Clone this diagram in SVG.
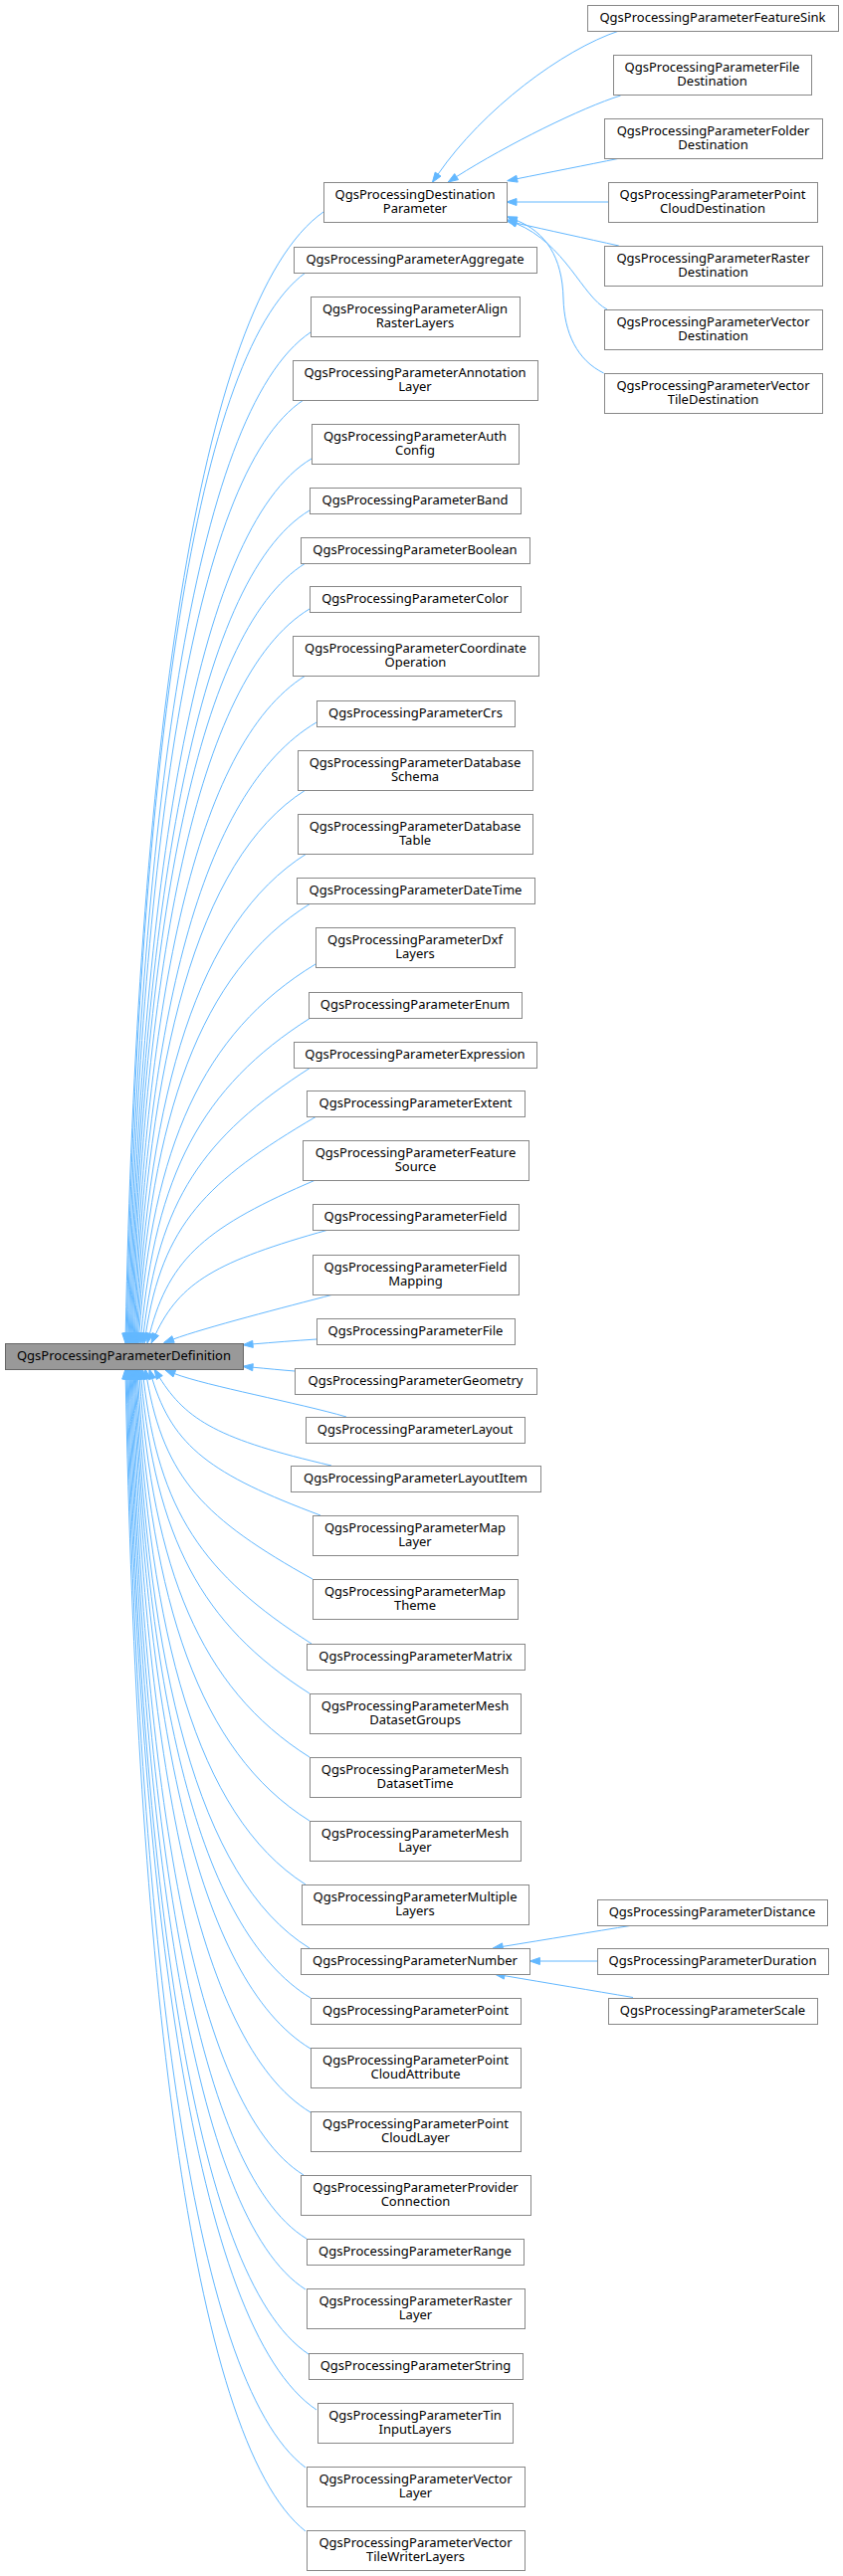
<svg xmlns="http://www.w3.org/2000/svg" width="847" height="2589" viewBox="0 0 847 2589">
<style>
.n rect{fill:#ffffff;stroke:#888888;stroke-width:1;shape-rendering:crispEdges}
.r rect{fill:#999999;stroke:#666666;stroke-width:1;shape-rendering:crispEdges}
text{font-family:"Noto Sans","Liberation Sans",sans-serif;font-size:13px;text-anchor:middle;fill:#000000}
#edges path{fill:none;stroke:#63b8ff;stroke-width:1}
#edges polygon{fill:#63b8ff;stroke:#63b8ff;stroke-width:1}
</style>
<rect x="0" y="0" width="847" height="2589" fill="#ffffff"/>
<g id="edges">
<path d="M325,213 C196.7,303.2 137.5,776.5 126.2,1340"/><polygon points="126,1350 129.7,1340.1 122.7,1339.9"/>
<path d="M307,274 C190.1,359.3 138.6,807 127.2,1340"/><polygon points="127,1350 130.7,1340.1 123.7,1339.9"/>
<path d="M312,334 C192.5,414.5 139.7,837 128.2,1340"/><polygon points="128,1350 131.7,1340.1 124.7,1339.9"/>
<path d="M305,402 C190.8,477 140.9,871 129.3,1340"/><polygon points="129,1350 132.8,1340.1 125.8,1339.9"/>
<path d="M313,461 C194.2,531.3 142,900.5 130.3,1340"/><polygon points="130,1350 133.8,1340.1 126.8,1339.9"/>
<path d="M311,513 C194.2,583 143.1,926.5 131.3,1340"/><polygon points="131,1350 134.8,1340.1 127.8,1339.9"/>
<path d="M307,566 C193.4,636 144.2,953 132.3,1340"/><polygon points="132,1350 135.8,1340.1 128.8,1339.9"/>
<path d="M311,612 C195.5,682 145.4,976 133.3,1340"/><polygon points="133,1350 136.8,1340.1 129.8,1339.9"/>
<path d="M307,679 C194.8,749 146.7,1009.5 134.4,1340"/><polygon points="134,1350 137.9,1340.1 130.9,1339.9"/>
<path d="M318,726 C199.3,796 147.8,1033 135.4,1340"/><polygon points="135,1350 138.9,1340.1 131.9,1339.9"/>
<path d="M307,794 C196.2,864 149.2,1067 136.5,1340"/><polygon points="136,1350 140,1340.2 133,1339.8"/>
<path d="M308,858 C197.2,928 150.6,1099 137.5,1340"/><polygon points="137,1350 141,1340.2 134,1339.8"/>
<path d="M312,908 C199.3,978 152.1,1124 138.6,1340"/><polygon points="138,1350 142.1,1340.2 135.1,1339.8"/>
<path d="M317,969 C201.8,1039 153.8,1154.5 139.8,1340"/><polygon points="139,1350 143.3,1340.3 136.3,1339.7"/>
<path d="M312,1023 C201.4,1093 156.6,1181.5 141.9,1340"/><polygon points="141,1350 145.4,1340.4 138.4,1339.8"/>
<path d="M312,1073 C202.9,1143 159.8,1206.6 144.2,1340.1"/><polygon points="143,1350 147.7,1340.5 140.7,1339.7"/>
<path d="M318,1122 C206.5,1187.4 163.4,1231 146.5,1340.1"/><polygon points="145,1350 150,1340.6 143,1339.6"/>
<path d="M317,1186 C208.8,1232.3 170.2,1263.3 150.5,1340.3"/><polygon points="148,1350 153.9,1341.2 147.1,1339.4"/>
<path d="M330,1236 C217.1,1267.5 180.7,1289 156.3,1341"/><polygon points="152,1350 159.5,1342.5 153.1,1339.5"/>
<path d="M335,1301 C285,1314 207,1334 174,1346"/><polygon points="164.6,1349.4 172.8,1342.7 175.2,1349.3"/>
<path d="M318,1346 C295,1347.5 275,1349.2 254,1350.9"/><polygon points="244,1351.7 253.7,1347.4 254.3,1354.4"/>
<path d="M296,1378 C283,1377 268,1375.5 254,1374.2"/><polygon points="244,1373.3 254.3,1370.7 253.7,1377.7"/>
<path d="M348,1424 C300,1410 208,1393 175.3,1380.6"/><polygon points="166,1377 176.6,1377.3 174,1383.9"/>
<path d="M333,1473 C220.7,1446.9 187.5,1428 160.3,1384.5"/><polygon points="155,1376 163.3,1382.6 157.3,1386.4"/>
<path d="M322,1523 C212.1,1481.9 173.8,1454.1 152.9,1385.6"/><polygon points="150,1376 156.3,1384.6 149.6,1386.6"/>
<path d="M314,1587 C205.9,1526.7 165.2,1486.4 147.7,1385.9"/><polygon points="146,1376 151.2,1385.3 144.3,1386.5"/>
<path d="M313,1652 C203.3,1582 159.8,1518.9 144.2,1385.9"/><polygon points="143,1376 147.7,1385.5 140.7,1386.3"/>
<path d="M311,1702 C201,1632 156.6,1544 141.9,1386"/><polygon points="141,1376 145.4,1385.7 138.4,1386.3"/>
<path d="M311,1766 C200,1696 154.1,1576 140.2,1386"/><polygon points="139.5,1376 143.7,1385.7 136.7,1386.3"/>
<path d="M311,1830 C199,1760 152,1608 138.6,1386"/><polygon points="138,1376 142.1,1385.8 135.1,1386.2"/>
<path d="M307,1894 C196.8,1824 150.5,1640 137.5,1386"/><polygon points="137,1376 141,1385.8 134,1386.2"/>
<path d="M311,1958 C197.5,1888 149,1672 136.4,1386"/><polygon points="136,1376 139.9,1385.8 132.9,1386.2"/>
<path d="M312,2008 C197.3,1938 147.8,1697 135.4,1386"/><polygon points="135,1376 138.9,1385.9 131.9,1386.1"/>
<path d="M312,2059 C196.5,1989 146.6,1722.5 134.4,1386"/><polygon points="134,1376 137.9,1385.9 130.9,1386.1"/>
<path d="M312,2123 C195.8,2053 145.3,1754.5 133.3,1386"/><polygon points="133,1376 136.8,1385.9 129.8,1386.1"/>
<path d="M305,2186 C192.7,2116 144.2,1786 132.3,1386"/><polygon points="132,1376 135.8,1385.9 128.8,1386.1"/>
<path d="M308,2250 C193.1,2180 143,1818 131.3,1386"/><polygon points="131,1376 134.8,1385.9 127.8,1386.1"/>
<path d="M307,2301 C192.1,2227.8 141.9,1843.5 130.3,1386"/><polygon points="130,1376 133.8,1385.9 126.8,1386.1"/>
<path d="M310,2366 C192.5,2287.6 140.7,1876 129.2,1386"/><polygon points="129,1376 132.7,1385.9 125.7,1386.1"/>
<path d="M318,2422 C194.6,2339.1 139.6,1904 128.2,1386"/><polygon points="128,1376 131.7,1385.9 124.7,1386.1"/>
<path d="M307,2480 C190.1,2392.5 138.6,1933 127.2,1386"/><polygon points="127,1376 130.7,1385.9 123.7,1386.1"/>
<path d="M307,2544 C189.5,2451.4 137.5,1965 126.2,1386"/><polygon points="126,1376 129.7,1385.9 122.7,1386.1"/>
<path d="M622,31 C565,50 485,110 440.1,175.1"/><polygon points="434.4,183.3 443,177.1 437.2,173.1"/>
<path d="M623.6,96 C585,108 510,145 458.6,177.6"/><polygon points="450.2,183 460.5,180.6 456.7,174.6"/>
<path d="M621.8,159.3 C590,165.7 550,173.6 519.5,179.7"/><polygon points="509.7,181.7 520.2,183.1 518.8,176.3"/>
<path d="M611,203 L519,203"/><polygon points="509,203 519,199.5 519,206.5"/>
<path d="M621.8,247 C590,240 550,231.2 518.8,224.2"/><polygon points="509,222 519.6,220.8 518,227.6"/>
<path d="M610,311 C585,298 568,245 518.5,224.6"/><polygon points="509.3,220.8 519.8,221.4 517.2,227.8"/>
<path d="M606.6,375 C580,362 567,335 566,300 C565,258 548,233 518.7,221.4"/><polygon points="509.4,217.7 520,218.1 517.4,224.7"/>
<path d="M636,1935 C595,1941.7 550,1949 505.1,1956.4"/><polygon points="495.2,1958 505.7,1959.9 504.5,1952.9"/>
<path d="M600,1971 L542.4,1971"/><polygon points="532.4,1971 542.4,1967.5 542.4,1974.5"/>
<path d="M636,2007.5 C595,2000.6 550,1993 506.9,1985.7"/><polygon points="497,1984 507.5,1982.2 506.3,1989.1"/>
</g>
<g id="root" class="r"><rect x="5" y="1350" width="239" height="26"/><text x="124.5" y="1367">QgsProcessingParameterDefinition</text></g>
<g id="n_dest" class="n"><rect x="325" y="183" width="184" height="40"/><text x="417" y="200">QgsProcessingDestination</text><text x="417" y="214">Parameter</text></g>
<g id="n_aggregate" class="n"><rect x="295" y="248" width="244" height="26"/><text x="417" y="265">QgsProcessingParameterAggregate</text></g>
<g id="n_align" class="n"><rect x="312" y="298" width="210" height="40"/><text x="417" y="315">QgsProcessingParameterAlign</text><text x="417" y="329">RasterLayers</text></g>
<g id="n_annotation" class="n"><rect x="294" y="362" width="246" height="40"/><text x="417" y="379">QgsProcessingParameterAnnotation</text><text x="417" y="393">Layer</text></g>
<g id="n_auth" class="n"><rect x="313" y="426" width="208" height="40"/><text x="417" y="443">QgsProcessingParameterAuth</text><text x="417" y="457">Config</text></g>
<g id="n_band" class="n"><rect x="311" y="490" width="212" height="26"/><text x="417" y="507">QgsProcessingParameterBand</text></g>
<g id="n_boolean" class="n"><rect x="302" y="540" width="230" height="26"/><text x="417" y="557">QgsProcessingParameterBoolean</text></g>
<g id="n_color" class="n"><rect x="311" y="589" width="212" height="26"/><text x="417" y="606">QgsProcessingParameterColor</text></g>
<g id="n_coord" class="n"><rect x="294" y="639" width="247" height="40"/><text x="417.5" y="656">QgsProcessingParameterCoordinate</text><text x="417.5" y="670">Operation</text></g>
<g id="n_crs" class="n"><rect x="318" y="704" width="199" height="26"/><text x="417.5" y="721">QgsProcessingParameterCrs</text></g>
<g id="n_dbschema" class="n"><rect x="299" y="754" width="236" height="40"/><text x="417" y="771">QgsProcessingParameterDatabase</text><text x="417" y="785">Schema</text></g>
<g id="n_dbtable" class="n"><rect x="299" y="818" width="236" height="40"/><text x="417" y="835">QgsProcessingParameterDatabase</text><text x="417" y="849">Table</text></g>
<g id="n_datetime" class="n"><rect x="298" y="882" width="239" height="26"/><text x="417.5" y="899">QgsProcessingParameterDateTime</text></g>
<g id="n_dxf" class="n"><rect x="317" y="932" width="200" height="40"/><text x="417" y="949">QgsProcessingParameterDxf</text><text x="417" y="963">Layers</text></g>
<g id="n_enum" class="n"><rect x="310" y="997" width="214" height="26"/><text x="417" y="1014">QgsProcessingParameterEnum</text></g>
<g id="n_expression" class="n"><rect x="295" y="1047" width="244" height="26"/><text x="417" y="1064">QgsProcessingParameterExpression</text></g>
<g id="n_extent" class="n"><rect x="308" y="1096" width="219" height="26"/><text x="417.5" y="1113">QgsProcessingParameterExtent</text></g>
<g id="n_fsource" class="n"><rect x="304" y="1146" width="227" height="40"/><text x="417.5" y="1163">QgsProcessingParameterFeature</text><text x="417.5" y="1177">Source</text></g>
<g id="n_field" class="n"><rect x="314" y="1210" width="207" height="26"/><text x="417.5" y="1227">QgsProcessingParameterField</text></g>
<g id="n_fmapping" class="n"><rect x="314" y="1261" width="207" height="40"/><text x="417.5" y="1278">QgsProcessingParameterField</text><text x="417.5" y="1292">Mapping</text></g>
<g id="n_file" class="n"><rect x="318" y="1325" width="199" height="26"/><text x="417.5" y="1342">QgsProcessingParameterFile</text></g>
<g id="n_geometry" class="n"><rect x="296" y="1375" width="243" height="26"/><text x="417.5" y="1392">QgsProcessingParameterGeometry</text></g>
<g id="n_layout" class="n"><rect x="307" y="1424" width="220" height="26"/><text x="417" y="1441">QgsProcessingParameterLayout</text></g>
<g id="n_layoutitem" class="n"><rect x="292" y="1473" width="251" height="26"/><text x="417.5" y="1490">QgsProcessingParameterLayoutItem</text></g>
<g id="n_maplayer" class="n"><rect x="314" y="1523" width="206" height="40"/><text x="417" y="1540">QgsProcessingParameterMap</text><text x="417" y="1554">Layer</text></g>
<g id="n_maptheme" class="n"><rect x="314" y="1587" width="206" height="40"/><text x="417" y="1604">QgsProcessingParameterMap</text><text x="417" y="1618">Theme</text></g>
<g id="n_matrix" class="n"><rect x="308" y="1652" width="219" height="26"/><text x="417.5" y="1669">QgsProcessingParameterMatrix</text></g>
<g id="n_meshgroups" class="n"><rect x="311" y="1702" width="212" height="40"/><text x="417" y="1719">QgsProcessingParameterMesh</text><text x="417" y="1733">DatasetGroups</text></g>
<g id="n_meshtime" class="n"><rect x="311" y="1766" width="212" height="40"/><text x="417" y="1783">QgsProcessingParameterMesh</text><text x="417" y="1797">DatasetTime</text></g>
<g id="n_meshlayer" class="n"><rect x="311" y="1830" width="212" height="40"/><text x="417" y="1847">QgsProcessingParameterMesh</text><text x="417" y="1861">Layer</text></g>
<g id="n_multiple" class="n"><rect x="303" y="1894" width="228" height="40"/><text x="417" y="1911">QgsProcessingParameterMultiple</text><text x="417" y="1925">Layers</text></g>
<g id="n_number" class="n"><rect x="302" y="1958" width="230" height="26"/><text x="417" y="1975">QgsProcessingParameterNumber</text></g>
<g id="n_point" class="n"><rect x="312" y="2008" width="211" height="26"/><text x="417.5" y="2025">QgsProcessingParameterPoint</text></g>
<g id="n_pcattribute" class="n"><rect x="312" y="2058" width="211" height="40"/><text x="417.5" y="2075">QgsProcessingParameterPoint</text><text x="417.5" y="2089">CloudAttribute</text></g>
<g id="n_pclayer" class="n"><rect x="312" y="2122" width="211" height="40"/><text x="417.5" y="2139">QgsProcessingParameterPoint</text><text x="417.5" y="2153">CloudLayer</text></g>
<g id="n_provider" class="n"><rect x="302" y="2186" width="231" height="40"/><text x="417.5" y="2203">QgsProcessingParameterProvider</text><text x="417.5" y="2217">Connection</text></g>
<g id="n_range" class="n"><rect x="308" y="2250" width="218" height="26"/><text x="417" y="2267">QgsProcessingParameterRange</text></g>
<g id="n_raster" class="n"><rect x="308" y="2300" width="219" height="40"/><text x="417.5" y="2317">QgsProcessingParameterRaster</text><text x="417.5" y="2331">Layer</text></g>
<g id="n_string" class="n"><rect x="310" y="2365" width="215" height="26"/><text x="417.5" y="2382">QgsProcessingParameterString</text></g>
<g id="n_tin" class="n"><rect x="319" y="2415" width="196" height="40"/><text x="417" y="2432">QgsProcessingParameterTin</text><text x="417" y="2446">InputLayers</text></g>
<g id="n_vector" class="n"><rect x="308" y="2479" width="219" height="40"/><text x="417.5" y="2496">QgsProcessingParameterVector</text><text x="417.5" y="2510">Layer</text></g>
<g id="n_vtwriter" class="n"><rect x="308" y="2543" width="219" height="40"/><text x="417.5" y="2560">QgsProcessingParameterVector</text><text x="417.5" y="2574">TileWriterLayers</text></g>
<g id="n_fsink" class="n"><rect x="590" y="5" width="252" height="26"/><text x="716" y="22">QgsProcessingParameterFeatureSink</text></g>
<g id="n_filedest" class="n"><rect x="616" y="55" width="199" height="40"/><text x="715.5" y="72">QgsProcessingParameterFile</text><text x="715.5" y="86">Destination</text></g>
<g id="n_folderdest" class="n"><rect x="607" y="119" width="219" height="40"/><text x="716.5" y="136">QgsProcessingParameterFolder</text><text x="716.5" y="150">Destination</text></g>
<g id="n_pcdest" class="n"><rect x="611" y="183" width="210" height="40"/><text x="716" y="200">QgsProcessingParameterPoint</text><text x="716" y="214">CloudDestination</text></g>
<g id="n_rasterdest" class="n"><rect x="607" y="247" width="219" height="40"/><text x="716.5" y="264">QgsProcessingParameterRaster</text><text x="716.5" y="278">Destination</text></g>
<g id="n_vectordest" class="n"><rect x="607" y="311" width="219" height="40"/><text x="716.5" y="328">QgsProcessingParameterVector</text><text x="716.5" y="342">Destination</text></g>
<g id="n_vtdest" class="n"><rect x="607" y="375" width="219" height="40"/><text x="716.5" y="392">QgsProcessingParameterVector</text><text x="716.5" y="406">TileDestination</text></g>
<g id="n_distance" class="n"><rect x="600" y="1909" width="231" height="26"/><text x="715.5" y="1926">QgsProcessingParameterDistance</text></g>
<g id="n_duration" class="n"><rect x="600" y="1958" width="232" height="26"/><text x="716" y="1975">QgsProcessingParameterDuration</text></g>
<g id="n_scale" class="n"><rect x="611" y="2008" width="210" height="26"/><text x="716" y="2025">QgsProcessingParameterScale</text></g>
</svg>
